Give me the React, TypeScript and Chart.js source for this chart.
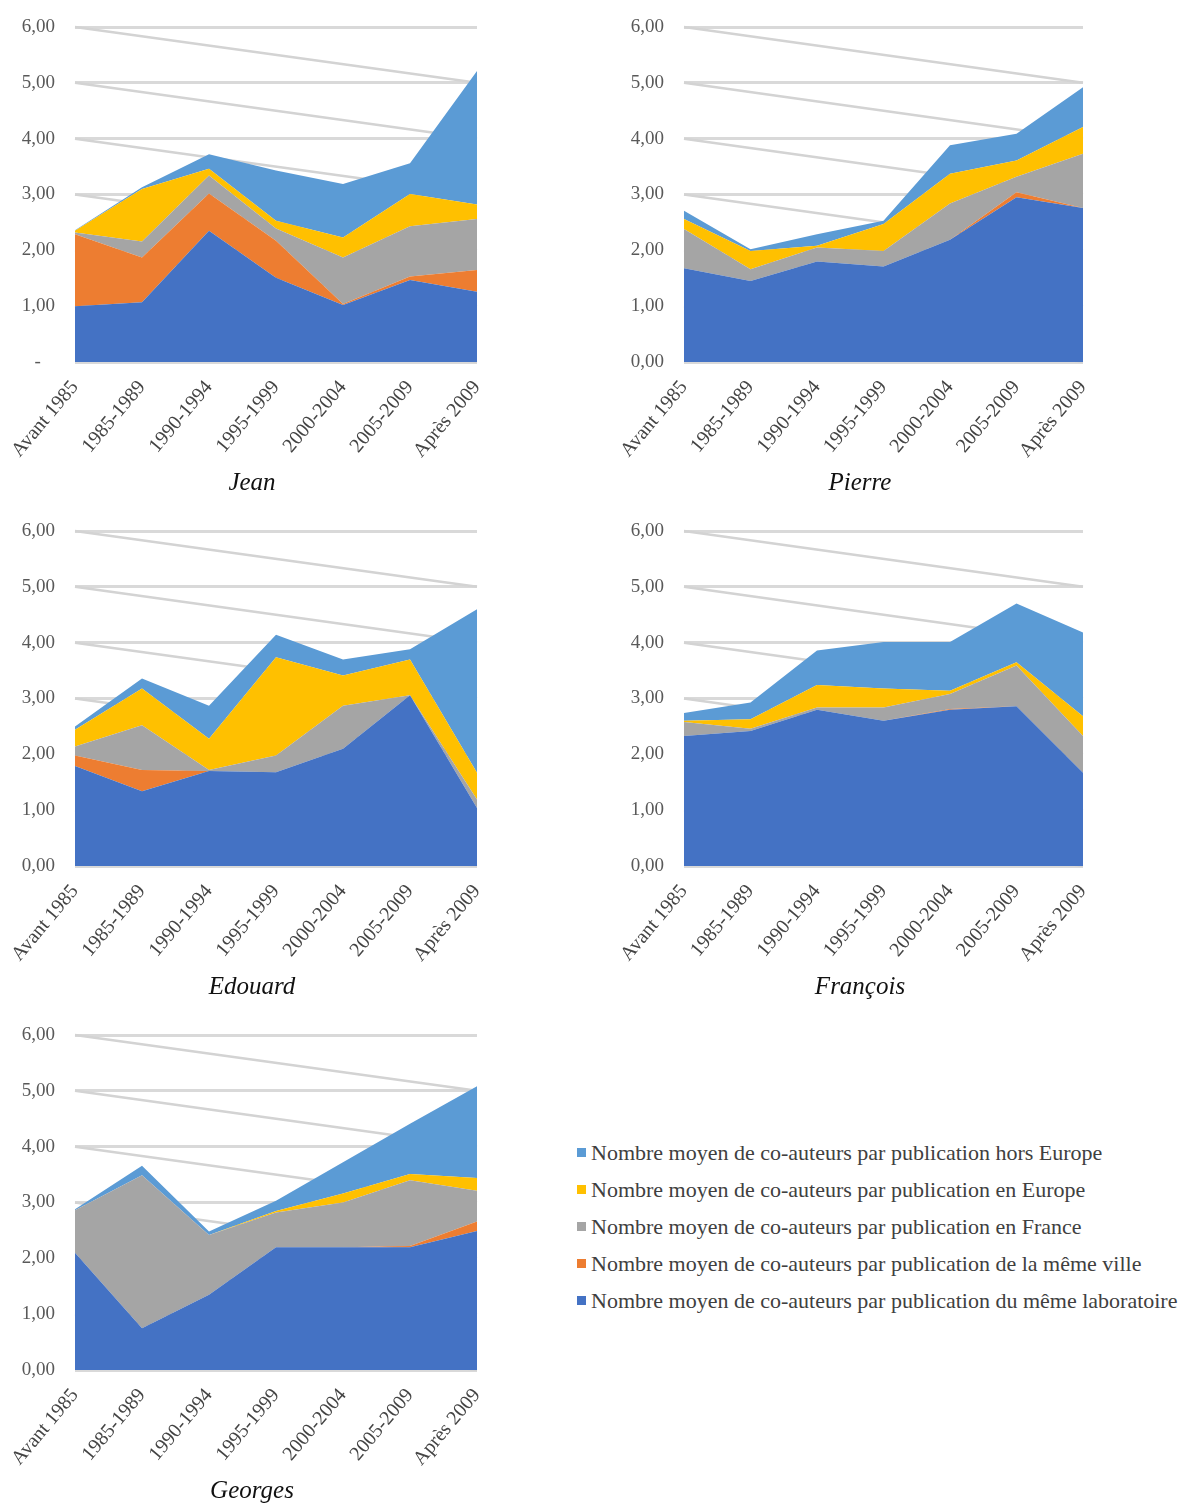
import React, { useEffect, useRef } from 'react';
import { Chart, registerables } from 'chart.js';

Chart.register(...registerables);

// ---------- data ----------
const categories = ['Avant 1985', '1985-1989', '1990-1994', '1995-1999', '2000-2004', '2005-2009', 'Après 2009'];

// stacking order: bottom -> top
const seriesLabels = [
  'Nombre moyen de co-auteurs par publication du même laboratoire',
  'Nombre moyen de co-auteurs par publication de la même ville',
  'Nombre moyen de co-auteurs par publication en France',
  'Nombre moyen de co-auteurs par publication en Europe',
  'Nombre moyen de co-auteurs par publication hors Europe',
];
const seriesColors = ['#4472C4', '#ED7D31', '#A5A5A5', '#FFC000', '#5B9BD5'];

const yTickValues = [0, 1, 2, 3, 4, 5, 6];
const yTickLabels = ['0,00', '1,00', '2,00', '3,00', '4,00', '5,00', '6,00'];
const yTickLabelsJean = ['-   ', '1,00', '2,00', '3,00', '4,00', '5,00', '6,00'];

const jeanLabo = [1.0, 1.07, 2.35, 1.51, 1.02, 1.47, 1.26];
const jeanVille = [1.29, 0.8, 0.67, 0.66, 0.02, 0.06, 0.39];
const jeanFrance = [0.03, 0.29, 0.32, 0.22, 0.83, 0.9, 0.91];
const jeanEurope = [0.03, 0.94, 0.12, 0.14, 0.36, 0.58, 0.26];
const jeanHorsEurope = [0.01, 0.03, 0.26, 0.9, 0.96, 0.55, 2.39];

const pierreLabo = [1.68, 1.45, 1.8, 1.71, 2.19, 2.95, 2.76];
const pierreVille = [0, 0, 0, 0, 0, 0.09, 0];
const pierreFrance = [0.7, 0.21, 0.25, 0.28, 0.65, 0.28, 0.97];
const pierreEurope = [0.18, 0.33, 0.03, 0.48, 0.53, 0.29, 0.48];
const pierreHorsEurope = [0.15, 0.03, 0.21, 0.06, 0.51, 0.48, 0.71];

const edouardLabo = [1.79, 1.34, 1.7, 1.68, 2.1, 3.06, 1.04];
const edouardVille = [0.19, 0.38, 0, 0, 0, 0, 0];
const edouardFrance = [0.16, 0.8, 0.02, 0.3, 0.77, 0, 0.15];
const edouardEurope = [0.3, 0.66, 0.56, 1.76, 0.54, 0.64, 0.48];
const edouardHorsEurope = [0.06, 0.18, 0.59, 0.4, 0.29, 0.18, 2.93];

const francoisLabo = [2.33, 2.42, 2.8, 2.6, 2.8, 2.86, 1.67];
const francoisVille = [0, 0, 0, 0, 0.01, 0, 0];
const francoisFrance = [0.25, 0.04, 0.04, 0.24, 0.27, 0.73, 0.66];
const francoisEurope = [0.02, 0.17, 0.4, 0.34, 0.06, 0.06, 0.35];
const francoisHorsEurope = [0.14, 0.3, 0.62, 0.83, 0.87, 1.05, 1.5];

const georgesLabo = [2.1, 0.75, 1.35, 2.2, 2.2, 2.2, 2.49];
const georgesVille = [0, 0, 0, 0, 0, 0.02, 0.17];
const georgesFrance = [0.76, 2.74, 1.07, 0.62, 0.8, 1.18, 0.55];
const georgesEurope = [0, 0, 0, 0.03, 0.16, 0.11, 0.23];
const georgesHorsEurope = [0.02, 0.17, 0.06, 0.18, 0.56, 0.9, 1.64];

// ---------- drawing helpers ----------
const FONT = '"Liberation Serif", "Times New Roman", serif';

const perspectiveGrid = {
  id: 'perspectiveGrid',
  beforeDatasetsDraw(chart: any) {
    const { ctx, chartArea, scales } = chart;
    const y = scales.y;
    ctx.save();
    ctx.strokeStyle = '#d3d3d3';
    ctx.lineWidth = 2.5;
    for (const v of yTickValues) {
      if (v <= 0) continue;
      ctx.beginPath();
      ctx.moveTo(chartArea.left, y.getPixelForValue(v));
      ctx.lineTo(chartArea.right, y.getPixelForValue(v - 1));
      ctx.stroke();
    }
    ctx.restore();
  },
};

type PanelProps = {
  name: string;
  series: number[][];
  tickLabels: string[];
  left: number;
  top: number;
  width: number;
  height: number;
  yAxisWidth: number;
  padRight: number;
};

function Panel({ name, series, tickLabels, left, top, width, height, yAxisWidth, padRight }: PanelProps) {
  const ref = useRef<HTMLCanvasElement | null>(null);
  useEffect(() => {
    if (!ref.current) return;
    const chart = new Chart(ref.current, {
      type: 'line',
      data: {
        labels: categories,
        datasets: series.map((d, i) => ({
          label: seriesLabels[i],
          data: d,
          backgroundColor: seriesColors[i],
          borderColor: seriesColors[i],
          borderWidth: 0,
          pointRadius: 0,
          tension: 0,
          fill: i === 0 ? 'origin' : '-1',
        })),
      },
      options: {
        animation: false,
        responsive: false,
        events: [],
        layout: { padding: { top: 27, left: 0, right: 0, bottom: 0 } },
        plugins: {
          legend: { display: false },
          tooltip: { enabled: false },
          title: {
            display: true,
            text: name,
            position: 'bottom',
            color: '#111111',
            padding: 0,
            font: { family: FONT, size: 25, style: 'italic', weight: 'normal', lineHeight: 1.2 },
          },
        },
        scales: {
          x: {
            type: 'category',
            offset: false,
            grid: { display: false },
            border: { display: false },
            ticks: {
              autoSkip: false,
              minRotation: 50,
              maxRotation: 50,
              padding: 6,
              color: '#444444',
              font: { family: FONT, size: 20 },
            },
            afterFit(s: any) {
              s.height = 106;
              s.paddingLeft = 0;
              s.paddingRight = padRight;
            },
          },
          y: {
            stacked: true,
            min: 0,
            max: 6,
            border: { display: false },
            grid: { color: '#d9d9d9', lineWidth: 3, drawTicks: false },
            ticks: {
              stepSize: 1,
              padding: 20,
              color: '#595959',
              font: { family: FONT, size: 19 },
              callback: (v: any) => {
                const idx = yTickValues.indexOf(Number(v));
                return idx >= 0 ? tickLabels[idx] : '';
              },
            },
            afterFit(s: any) {
              s.width = yAxisWidth;
              s.paddingTop = 0;
              s.paddingBottom = 0;
            },
          },
        },
      } as any,
      plugins: [perspectiveGrid],
    });
    return () => chart.destroy();
  }, []);
  return (
    <div style={{ position: 'absolute', left, top, width, height }}>
      <canvas ref={ref} width={width} height={height} style={{ display: 'block', width, height }} />
    </div>
  );
}

export default function App() {
  const legendOrder = [4, 3, 2, 1, 0];
  return (
    <div style={{ position: 'absolute', left: 0, top: 0, width: 1185, height: 1506, background: '#ffffff', overflow: 'hidden' }}>
      <Panel name="Jean" series={[jeanLabo, jeanVille, jeanFrance, jeanEurope, jeanHorsEurope]} tickLabels={yTickLabelsJean}
        left={0} top={0} width={504} height={498} yAxisWidth={75} padRight={27} />
      <Panel name="Pierre" series={[pierreLabo, pierreVille, pierreFrance, pierreEurope, pierreHorsEurope]} tickLabels={yTickLabels}
        left={600} top={0} width={520} height={498} yAxisWidth={84} padRight={37} />
      <Panel name="Edouard" series={[edouardLabo, edouardVille, edouardFrance, edouardEurope, edouardHorsEurope]} tickLabels={yTickLabels}
        left={0} top={504} width={504} height={498} yAxisWidth={75} padRight={27} />
      <Panel name="François" series={[francoisLabo, francoisVille, francoisFrance, francoisEurope, francoisHorsEurope]} tickLabels={yTickLabels}
        left={600} top={504} width={520} height={498} yAxisWidth={84} padRight={37} />
      <Panel name="Georges" series={[georgesLabo, georgesVille, georgesFrance, georgesEurope, georgesHorsEurope]} tickLabels={yTickLabels}
        left={0} top={1008} width={504} height={498} yAxisWidth={75} padRight={27} />
      <div style={{ position: 'absolute', left: 577, top: 1134, fontFamily: FONT, fontSize: 22, color: '#404040' }}>
        {legendOrder.map((i) => (
          <div key={i} style={{ height: 37, display: 'flex', alignItems: 'center', whiteSpace: 'nowrap' }}>
            <span style={{ display: 'inline-block', width: 9, height: 9, background: seriesColors[i], marginRight: 5 }} />
            <span>{seriesLabels[i]}</span>
          </div>
        ))}
      </div>
    </div>
  );
}
